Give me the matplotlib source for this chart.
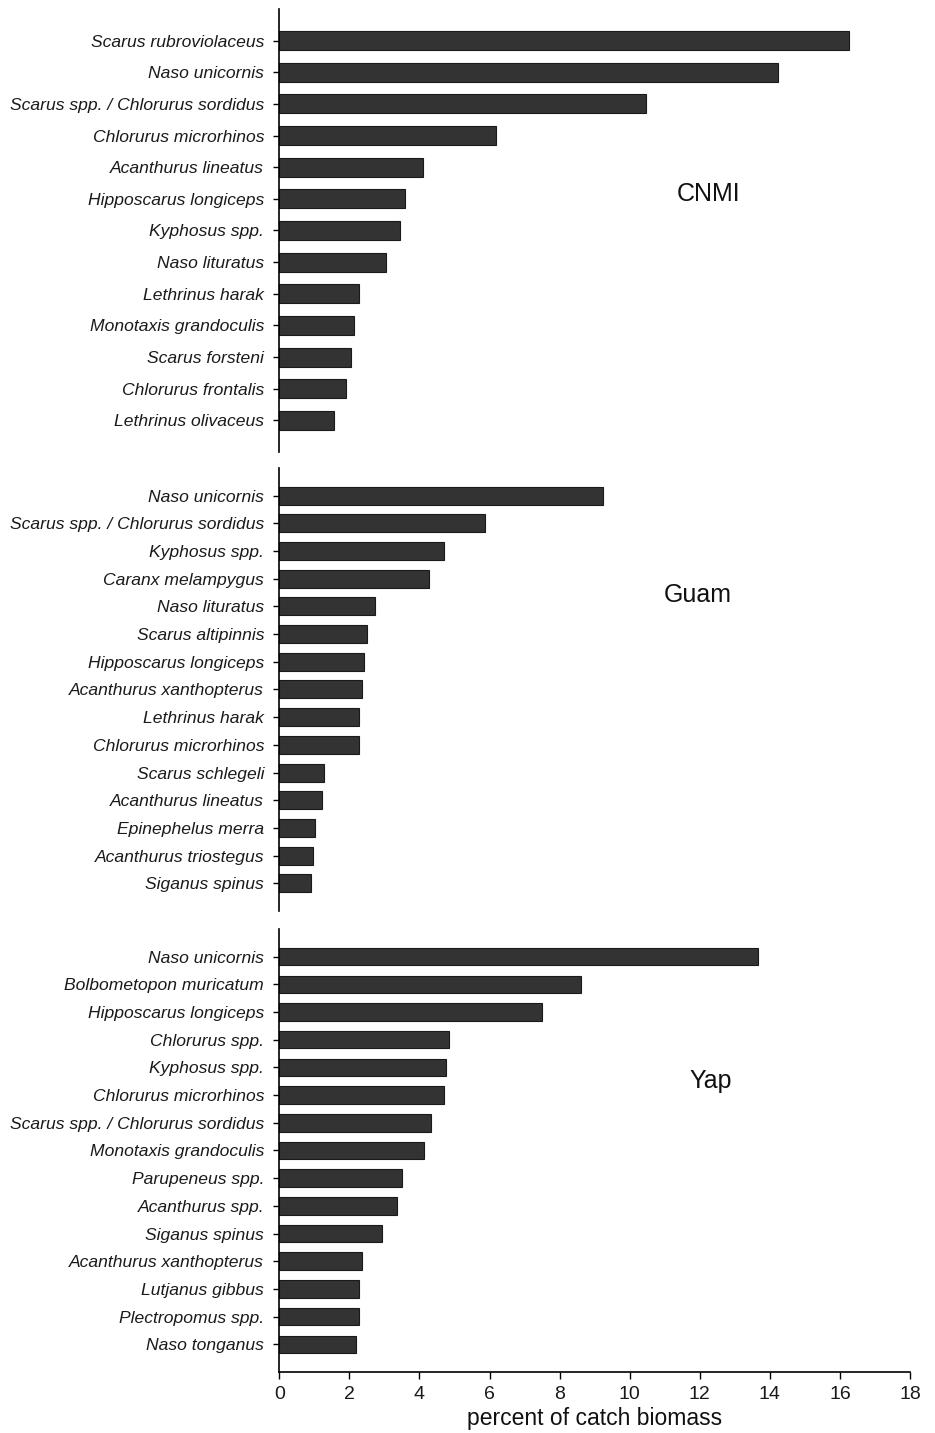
import matplotlib

matplotlib.use("Agg")

import matplotlib.pyplot as plt

# species and percent of catch biomass for each jurisdiction
cnmi_species = ["Scarus rubroviolaceus", "Naso unicornis",
                "Scarus spp. / Chlorurus sordidus", "Chlorurus microrhinos",
                "Acanthurus lineatus", "Hipposcarus longiceps", "Kyphosus spp.",
                "Naso lituratus", "Lethrinus harak", "Monotaxis grandoculis",
                "Scarus forsteni", "Chlorurus frontalis", "Lethrinus olivaceus"]
cnmi_pct = [16.27, 14.24, 10.46, 6.18, 4.10, 3.60, 3.44, 3.04, 2.27, 2.13,
            2.05, 1.89, 1.55]

guam_species = ["Naso unicornis", "Scarus spp. / Chlorurus sordidus",
                "Kyphosus spp.", "Caranx melampygus", "Naso lituratus",
                "Scarus altipinnis", "Hipposcarus longiceps",
                "Acanthurus xanthopterus", "Lethrinus harak",
                "Chlorurus microrhinos", "Scarus schlegeli",
                "Acanthurus lineatus", "Epinephelus merra",
                "Acanthurus triostegus", "Siganus spinus"]
guam_pct = [9.24, 5.87, 4.69, 4.27, 2.73, 2.50, 2.43, 2.36, 2.27, 2.27,
            1.28, 1.21, 1.02, 0.95, 0.90]

yap_species = ["Naso unicornis", "Bolbometopon muricatum",
               "Hipposcarus longiceps", "Chlorurus spp.", "Kyphosus spp.",
               "Chlorurus microrhinos", "Scarus spp. / Chlorurus sordidus",
               "Monotaxis grandoculis", "Parupeneus spp.", "Acanthurus spp.",
               "Siganus spinus", "Acanthurus xanthopterus", "Lutjanus gibbus",
               "Plectropomus spp.", "Naso tonganus"]
yap_pct = [13.66, 8.62, 7.50, 4.83, 4.76, 4.71, 4.33, 4.12, 3.49, 3.36,
           2.93, 2.35, 2.28, 2.27, 2.20]

x_ticks = [0, 2, 4, 6, 8, 10, 12, 14, 16, 18]

plt.rcParams["font.family"] = ["Liberation Sans", "DejaVu Sans"]

fig = plt.figure(figsize=(9.35, 14.33), dpi=100)

panels = [
    ("CNMI", cnmi_species, cnmi_pct, [0.2987, 0.6846, 0.6746, 0.3091], 0.60, (0.68, 0.582)),
    ("Guam", guam_species, guam_pct, [0.2987, 0.3643, 0.6746, 0.3091], 0.65, (0.664, 0.713)),
    ("Yap", yap_species, yap_pct, [0.2987, 0.0426, 0.6746, 0.3091], 0.63, (0.684, 0.657)),
]

axes = []
for name, species, pct, rect, h, (tx, ty) in panels:
    ax = fig.add_axes(rect)
    pos = list(range(len(species)))
    ax.barh(pos, pct, height=h, color="#333333", edgecolor="#1a1a1a",
            linewidth=0.8)
    ax.set_ylim(len(species), -1)
    ax.set_xlim(0, 18)
    ax.set_yticks(pos)
    ax.set_yticklabels(species, fontstyle="italic", fontsize=12.6,
                       color="#1a1a1a")
    ax.tick_params(axis="y", length=4, width=1, pad=7, direction="out")
    for s in ["top", "right", "bottom"]:
        ax.spines[s].set_visible(False)
    ax.spines["left"].set_linewidth(1.2)
    ax.text(tx, ty, name, transform=ax.transAxes, ha="center", va="center",
            fontsize=18, color="#111111")
    axes.append(ax)

for ax in axes[:-1]:
    ax.set_xticks([])

bottom = axes[-1]
bottom.spines["bottom"].set_visible(True)
bottom.spines["bottom"].set_linewidth(1.2)
bottom.set_xticks(x_ticks)
bottom.set_xticklabels([str(t) for t in x_ticks], fontsize=14,
                       color="#1a1a1a")
bottom.tick_params(axis="x", length=5, width=1, pad=5, direction="out")
bottom.set_xlabel("percent of catch biomass", fontsize=16.5, color="#111111",
                  labelpad=3)

fig.savefig("out.png", dpi=100)
